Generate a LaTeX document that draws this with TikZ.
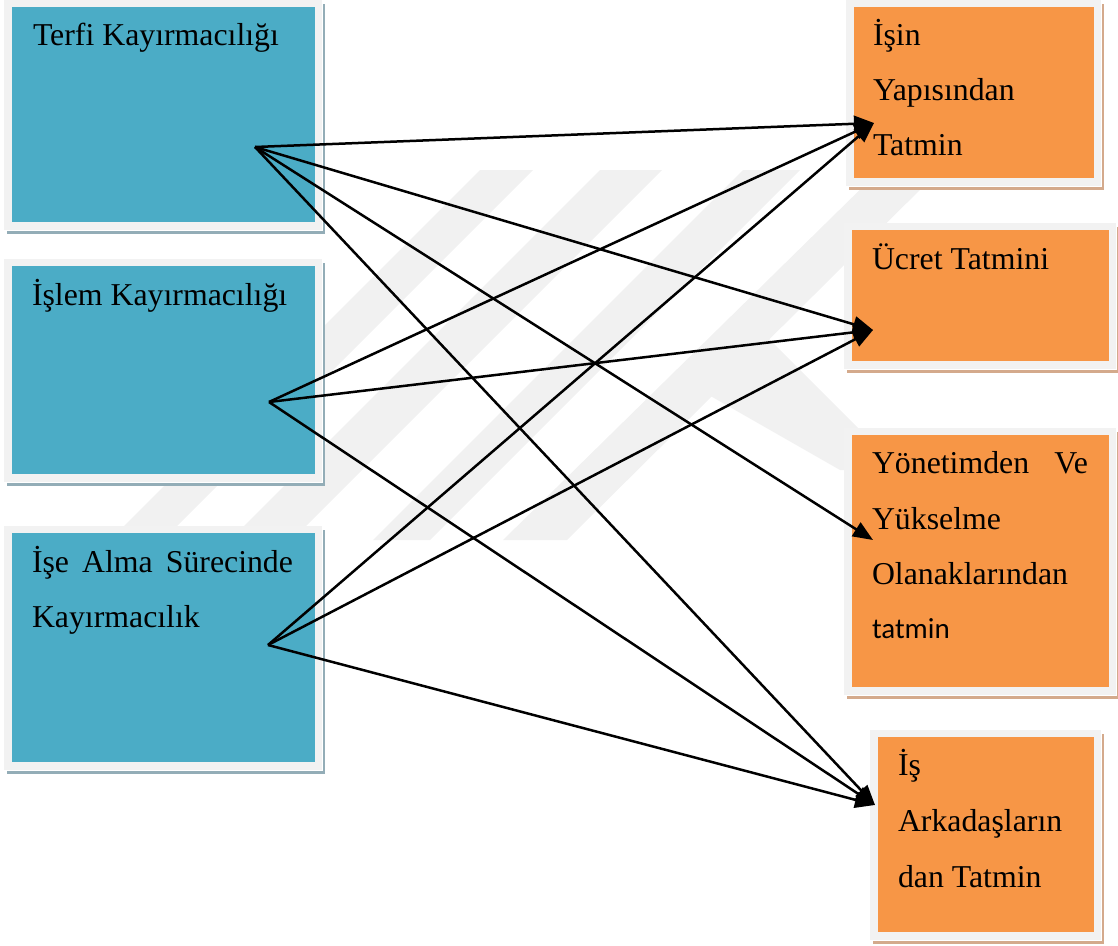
\documentclass[tikz,border=0pt]{standalone}
\usepackage{fontspec}
\setmainfont{Liberation Serif}
\newfontfamily\calfont{Carlito}
\usetikzlibrary{arrows.meta}
\definecolor{tealbox}{HTML}{4BACC6}
\definecolor{orangebox}{HTML}{F79646}
\definecolor{framecol}{HTML}{F2F2F2}
\definecolor{tealshadow}{HTML}{93ADB7}
\definecolor{orangeshadow}{HTML}{D4AA8C}
\definecolor{wmark}{HTML}{F1F1F1}
\newcommand\mkbox[7]{%
  \fill[#7] (#2-5,#3-3) rectangle (#4+10,#5+12);
  \fill[white] (#2-8,#3-7) rectangle (#4+8,#5+9);
  \fill[framecol] (#2-8,#3-7) rectangle (#4+7,#5+8);
  \node[fill=#6,inner sep=0pt,outer sep=0pt,anchor=north west,
        minimum width={(#4-#2)*1pt},minimum height={(#5-#3)*1pt}] (#1) at (#2,#3) {};
}
\begin{document}
\begin{tikzpicture}[x=1pt,y=-1pt,
  lbl/.style={anchor=base west,inner sep=0pt,outer sep=0pt,font=\fontsize{31.8}{38}\selectfont},
  arr/.style={line width=2.5pt,-{Triangle[length=20pt,width=16pt]}},
  wm/.style={fill=wmark,draw=none}]
\useasboundingbox (0,0) rectangle (1118,945);
% watermark (approximation)
\path[wm] (480,170) -- (533,170) -- (163,540) -- (110,540) -- cycle;
\path[wm] (600,170) -- (662,170) -- (292,540) -- (230,540) -- cycle;
\path[wm] (743,170) -- (800,170) -- (430,540) -- (373,540) -- cycle;
\path[wm] (880,170) -- (940,170) -- (567,540) -- (503,540) -- cycle;
\path[wm] (700,390) -- (760,330) -- (900,470) -- (840,470) -- cycle;
% boxes
\mkbox{b1}{12}{7}{315}{222}{tealbox}{tealshadow}
\mkbox{b2}{12}{266}{315}{474}{tealbox}{tealshadow}
\mkbox{b3}{12}{533}{315}{762}{tealbox}{tealshadow}
\mkbox{o1}{854}{7}{1094}{178}{orangebox}{orangeshadow}
\mkbox{o2}{852}{230}{1109}{361}{orangebox}{orangeshadow}
\mkbox{o3}{852}{435}{1109}{687}{orangebox}{orangeshadow}
\mkbox{o4}{878}{737}{1094}{932}{orangebox}{orangeshadow}
% texts
\node[lbl] (l1) at (33,45) {Terfi Kayırmacılığı};
\node[lbl] (l2) at (32,305) {İşlem Kayırmacılığı};
\node[lbl] (l3a) at (32,572) {\hbox to 261pt{İşe\hfill Alma\hfill Sürecinde}};
\node[lbl] (l3b) at (32,627) {Kayırmacılık};
\node[lbl] (r1a) at (873,45) {İşin};
\node[lbl] (r1b) at (873,100) {Yapısından};
\node[lbl] (r1c) at (873,155) {Tatmin};
\node[lbl] (r2) at (872,269) {Ücret Tatmini};
\node[lbl] (r3a) at (872,473) {\hbox to 216pt{Yönetimden\hfill Ve}};
\node[lbl] (r3b) at (872,529) {Yükselme};
\node[lbl] (r3c) at (872,584) {Olanaklarından};
\node[lbl,font=\calfont\fontsize{29}{35}\selectfont] (r3d) at (872,638) {tatmin};
\node[lbl] (r4a) at (898,775) {İş};
\node[lbl] (r4b) at (898,831) {Arkadaşların};
\node[lbl] (r4c) at (898,887) {dan Tatmin};
% connector end points
\coordinate (s1) at (255,147);
\coordinate (s2) at (269,402);
\coordinate (s3) at (268,645);
\coordinate (t1) at (874,123);
\coordinate (t2) at (873,330);
\coordinate (t3) at (873,540);
\coordinate (t4) at (875,805);
% arrows
\draw[arr] (s1) -- (t1);
\draw[arr] (s1) -- (t2);
\draw[arr] (s1) -- (t3);
\draw[arr] (s1) -- (t4);
\draw[arr] (s2) -- (t1);
\draw[arr] (s2) -- (t2);
\draw[arr] (s2) -- (t4);
\draw[arr] (s3) -- (t1);
\draw[arr] (s3) -- (t2);
\draw[arr] (s3) -- (t4);
\end{tikzpicture}
\end{document}
